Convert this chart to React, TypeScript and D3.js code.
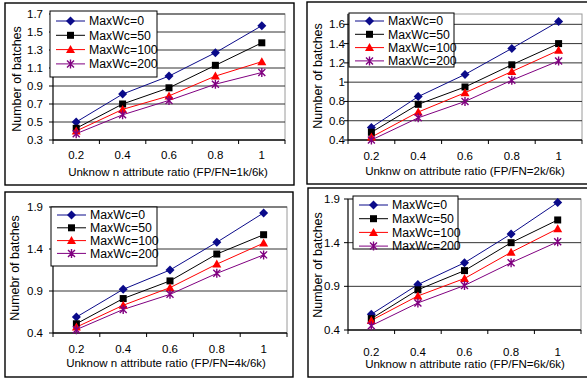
import { useEffect, useRef } from 'react';
import * as d3 from 'd3';

const ratios = ['0.2', '0.4', '0.6', '0.8', '1'];
const seriesNames = ['MaxWc=0', 'MaxWc=50', 'MaxWc=100', 'MaxWc=200'];

// one row per MaxWc setting
const fp1k = [
  [0.5, 0.81, 1.01, 1.27, 1.57],
  [0.43, 0.7, 0.88, 1.13, 1.38],
  [0.4, 0.64, 0.79, 1.01, 1.17],
  [0.37, 0.58, 0.74, 0.92, 1.05],
];
const fp2k = [
  [0.53, 0.85, 1.08, 1.35, 1.63],
  [0.48, 0.77, 0.95, 1.18, 1.4],
  [0.43, 0.69, 0.89, 1.11, 1.33],
  [0.4, 0.63, 0.8, 1.02, 1.22],
];
const fp4k = [
  [0.59, 0.92, 1.15, 1.48, 1.83],
  [0.51, 0.81, 1.02, 1.34, 1.57],
  [0.47, 0.73, 0.94, 1.22, 1.47],
  [0.44, 0.68, 0.86, 1.11, 1.33],
];
const fp6k = [
  [0.58, 0.92, 1.17, 1.5, 1.86],
  [0.53, 0.86, 1.08, 1.4, 1.66],
  [0.51, 0.79, 0.99, 1.29, 1.56],
  [0.45, 0.71, 0.91, 1.17, 1.41],
];

const ticks1k = [0.3, 0.5, 0.7, 0.9, 1.1, 1.3, 1.5, 1.7];
const ticks2k = [0.4, 0.6, 0.8, 1, 1.2, 1.4, 1.6];
const ticks4k = [0.4, 0.9, 1.4, 1.9];
const ticks6k = [0.4, 0.9, 1.4, 1.9];

const xTitles = [
  'Unknow n attribute ratio (FP/FN=1k/6k)',
  'Unknw on attribute ratio (FP/FN=2k/6k)',
  'Unknow n attribute ratio (FP/FN=4k/6k)',
  'Unknow n attribute ratio (FP/FN=6k/6k)',
];
const yTitles = ['Number of batches', 'Number of batches', 'Numebr of batches', 'Number of batches'];

const colors = ['#0b0b8a', '#000000', '#ff0000', '#800080'];
const FONT = "'Liberation Sans', Arial, sans-serif";

const layouts = [
  {
    data: fp1k, ticks: ticks1k, domain: [0.3, 1.7],
    frame: [5, 3, 294, 185], plot: [53, 14, 285, 140], labelRight: 43,
    legend: { x: 50, y: 11, w: 107, h: 66, row0: 21, step: 14.3 },
    yTitle: [17, 79], xLabelY: 159, xTitle: [168, 176],
  },
  {
    data: fp2k, ticks: ticks2k, domain: [0.4, 1.707],
    frame: [307, 2, 600, 184], plot: [348, 14, 582, 140], labelRight: 345,
    legend: { x: 349, y: 13, w: 105, h: 54, row0: 21, step: 13.3 },
    yTitle: [318, 76], xLabelY: 160, xTitle: [465, 175],
  },
  {
    data: fp4k, ticks: ticks4k, domain: [0.4, 1.9],
    frame: [5, 192, 293, 377], plot: [53, 207, 287, 333], labelRight: 43,
    legend: { x: 51, y: 207, w: 106, h: 59, row0: 215, step: 12.8 },
    yTitle: [15, 268], xLabelY: 353, xTitle: [166, 367],
  },
  {
    data: fp6k, ticks: ticks6k, domain: [0.4, 1.9],
    frame: [308, 188, 600, 377], plot: [348, 199, 581, 330], labelRight: 340,
    legend: { x: 353, y: 196, w: 105, h: 53, row0: 205, step: 13.7 },
    yTitle: [318, 265], xLabelY: 356, xTitle: [465, 368],
  },
];

function drawMarker(g: any, kind: number, cx: number, cy: number) {
  const c = colors[kind];
  if (kind === 0) {
    g.append('path')
      .attr('d', `M${cx},${cy - 4.5}L${cx + 4.5},${cy}L${cx},${cy + 4.5}L${cx - 4.5},${cy}Z`)
      .attr('fill', c);
  } else if (kind === 1) {
    g.append('rect')
      .attr('x', cx - 3.5).attr('y', cy - 3.5)
      .attr('width', 7).attr('height', 7)
      .attr('fill', c);
  } else if (kind === 2) {
    g.append('path')
      .attr('d', `M${cx},${cy - 4.5}L${cx + 4.5},${cy + 3.5}L${cx - 4.5},${cy + 3.5}Z`)
      .attr('fill', c);
  } else {
    g.append('path')
      .attr('d', `M${cx - 3.5},${cy - 3.5}L${cx + 3.5},${cy + 3.5}M${cx - 3.5},${cy + 3.5}L${cx + 3.5},${cy - 3.5}M${cx},${cy - 4.5}L${cx},${cy + 4.5}`)
      .attr('stroke', c)
      .attr('stroke-width', 1.4)
      .attr('fill', 'none');
  }
}

export default function App() {
  const svgRef = useRef<SVGSVGElement>(null);

  useEffect(() => {
    if (!svgRef.current) return;
    const svg = d3.select(svgRef.current);
    svg.selectAll('*').remove();

    svg.append('rect').attr('width', 587).attr('height', 382).attr('fill', '#fff');

    layouts.forEach((p, pi) => {
      const g = svg.append('g');
      const [fx0, fy0, fx1, fy1] = p.frame;
      const [l, t, r, b] = p.plot;

      // outer frame
      g.append('rect')
        .attr('x', fx0).attr('y', fy0)
        .attr('width', fx1 - fx0).attr('height', fy1 - fy0)
        .attr('fill', 'none')
        .attr('stroke', '#000')
        .attr('stroke-width', 1.4);

      const x = d3.scaleBand().domain(ratios).range([l, r]);
      const y = d3.scaleLinear().domain(p.domain).range([b, t]);

      // plot area border (grey)
      g.append('rect')
        .attr('x', l).attr('y', t)
        .attr('width', r - l).attr('height', b - t)
        .attr('fill', 'none')
        .attr('stroke', '#9a9a9a');

      // gridlines
      g.selectAll('.grid')
        .data(p.ticks)
        .enter()
        .append('line')
        .attr('x1', l).attr('x2', r)
        .attr('y1', (d) => y(d)).attr('y2', (d) => y(d))
        .attr('stroke', '#333');

      // y axis
      g.append('line').attr('x1', l).attr('x2', l).attr('y1', t).attr('y2', b).attr('stroke', '#000');
      p.ticks.forEach((v) => {
        g.append('line')
          .attr('x1', l - 4).attr('x2', l)
          .attr('y1', y(v)).attr('y2', y(v))
          .attr('stroke', '#000');
        g.append('text')
          .attr('x', p.labelRight).attr('y', y(v))
          .attr('dy', '0.35em')
          .attr('text-anchor', 'end')
          .attr('font-family', FONT)
          .attr('font-size', 11.5)
          .text(String(+v.toFixed(1)));
      });

      // x axis
      g.append('line').attr('x1', l).attr('x2', r).attr('y1', b).attr('y2', b).attr('stroke', '#000');
      const edges = ratios.map((d) => x(d)!).concat([r]);
      edges.forEach((ex) => {
        g.append('line')
          .attr('x1', ex).attr('x2', ex)
          .attr('y1', b).attr('y2', b + 4)
          .attr('stroke', '#000');
      });
      ratios.forEach((d) => {
        g.append('text')
          .attr('x', x(d)! + x.bandwidth() / 2).attr('y', p.xLabelY)
          .attr('text-anchor', 'middle')
          .attr('font-family', FONT)
          .attr('font-size', 11.5)
          .text(d);
      });

      // series
      const line = d3
        .line<number>()
        .x((_, i) => x(ratios[i])! + x.bandwidth() / 2)
        .y((v) => y(v));
      p.data.forEach((vals, si) => {
        g.append('path')
          .attr('d', line(vals))
          .attr('fill', 'none')
          .attr('stroke', colors[si])
          .attr('stroke-width', 1);
      });
      p.data.forEach((vals, si) => {
        vals.forEach((v, i) => drawMarker(g, si, x(ratios[i])! + x.bandwidth() / 2, y(v)));
      });

      // titles
      g.append('text')
        .attr('transform', `translate(${p.yTitle[0]},${p.yTitle[1]}) rotate(-90)`)
        .attr('dy', '0.35em')
        .attr('text-anchor', 'middle')
        .attr('font-family', FONT)
        .attr('font-size', 12.5)
        .text(yTitles[pi]);
      g.append('text')
        .attr('x', p.xTitle[0]).attr('y', p.xTitle[1])
        .attr('text-anchor', 'middle')
        .attr('font-family', FONT)
        .attr('font-size', 11.5)
        .text(xTitles[pi]);

      // legend
      const lg = p.legend;
      g.append('rect')
        .attr('x', lg.x).attr('y', lg.y)
        .attr('width', lg.w).attr('height', lg.h)
        .attr('fill', '#fff')
        .attr('stroke', '#000');
      seriesNames.forEach((name, si) => {
        const ry = lg.row0 + si * lg.step;
        g.append('line')
          .attr('x1', lg.x + 6).attr('x2', lg.x + 35)
          .attr('y1', ry).attr('y2', ry)
          .attr('stroke', colors[si]);
        drawMarker(g, si, lg.x + 20.5, ry);
        g.append('text')
          .attr('x', lg.x + 39).attr('y', ry)
          .attr('dy', '0.35em')
          .attr('font-family', FONT)
          .attr('font-size', 12.3)
          .text(name);
      });
    });
  }, []);

  return (
    <svg
      ref={svgRef}
      width={587}
      height={382}
      style={{ position: 'absolute', left: 0, top: 0 }}
    />
  );
}
